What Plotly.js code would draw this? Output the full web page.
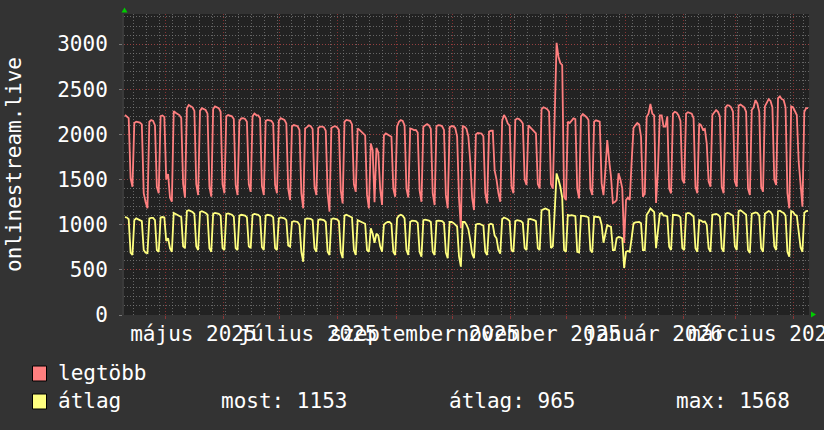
<!DOCTYPE html>
<html>
<head>
<meta charset="utf-8">
<script src="https://cdn.plot.ly/plotly-3.0.1.min.js"></script>
<style>
html,body{margin:0;padding:0;background:#333333;}
#chart{width:824px;height:430px;}
</style>
</head>
<body>
<div id="chart"></div>
<script>
// ---------- data (daily values) ----------
const startDate = '2025-04-09';
const endDate = '2026-04-09';
const seriesNames = ['legtöbb', 'átlag'];

const maxValues = [
 2214,2195,2180,1516,1420,
 2125,2140,2135,2130,2110,1350,1250,
 1181,2140,2159,2150,2100,1420,1347,
 2203,2210,2190,1500,1560,1300,1254,
 2258,2240,2230,2214,2180,1450,1300,
 2290,2325,2310,2300,2260,1450,1328,
 2260,2290,2277,2270,2230,1420,1310,
 2280,2310,2300,2290,2250,1450,1347,
 2200,2214,2210,2200,2170,1440,1328,
 2150,2177,2180,2170,2140,1450,1365,
 2200,2230,2214,2210,2180,1430,1328,
 2150,2160,2159,2150,2120,1440,1347,
 2150,2180,2170,2160,2120,1400,1273,
 2090,2103,2100,2090,2050,1350,1181,
 2066,2080,2100,2090,2060,1420,1328,
 2070,2085,2085,2080,2040,1350,1144,
 2070,2085,2090,2080,2050,1380,1236,
 2140,2160,2155,2150,2110,1450,1365,
 2066,2050,2030,2010,1990,1330,1181,
 1900,1826,1250,1850,1800,1400,1218,
 1990,2010,2000,1990,1974,1400,1310,
 2085,2140,2159,2150,2100,1400,1300,
 2066,2060,2048,2050,2020,1380,1254,
 2085,2100,2115,2100,2060,1350,1218,
 2090,2103,2100,2090,2050,1330,1181,
 2080,2090,2090,2070,1975,1300,960,
 2090,2085,2060,1975,1700,1300,1162,
 2000,2015,2015,2010,1980,1350,1236,
 2030,2040,2040,1600,1500,1350,1254,
 2150,2214,2180,2120,2100,1420,1347,
 2160,2177,2170,2150,2120,1500,1439,
 2100,2080,2060,2030,2010,1450,1402,
 2280,2299,2292,2280,2250,1450,1400,
 2100,3014,2860,2790,2768,1310,1273,
 2140,2125,2150,2177,2170,1400,1291,
 2200,2225,2210,2190,2160,1400,1328,
 2140,2155,2150,2140,1460,1328,1600,
 1937,1715,1531,1240,1250,1273,1570,
 1500,1402,797,1273,1300,1273,1700,
 2070,2100,2125,2110,1974,1310,1347,
 2195,2230,2336,2230,2210,1240,1600,
 2210,2210,2085,2085,2200,1400,1347,
 2230,2250,2240,2210,2150,1500,1458,
 2230,2245,2240,2230,2180,1420,1347,
 2120,2100,2050,2060,1900,1480,1420,
 2214,2240,2270,2250,2200,1420,1347,
 2300,2324,2320,2300,2250,1480,1420,
 2320,2330,2310,2300,2250,1400,1328,
 2270,2300,2380,2340,2250,1420,1365,
 2310,2350,2390,2370,2300,1500,1439,
 2400,2420,2390,2380,2300,1350,1181,
 2310,2300,2250,2214,1700,1400,1200,
 2250,2290,2290
];

const avgValues = [
 1085,1080,1060,690,664,
 1050,1070,1060,1050,1040,720,690,
 686,1070,1075,1075,1050,720,700,
 1080,1085,1080,820,850,740,700,
 1130,1120,1110,1100,1085,760,740,
 1150,1160,1150,1140,1120,760,720,
 1140,1150,1140,1130,1110,740,700,
 1120,1130,1125,1120,1100,740,720,
 1120,1125,1120,1110,1090,740,720,
 1100,1110,1105,1100,1080,760,740,
 1110,1120,1115,1110,1090,750,720,
 1100,1110,1105,1100,1080,740,720,
 1070,1080,1075,1070,1050,770,756,
 1030,1040,1035,1030,1000,700,590,
 1060,1070,1070,1065,1050,740,700,
 1050,1060,1055,1050,1030,700,664,
 1060,1070,1065,1060,1040,700,630,
 1100,1110,1100,1095,1080,720,664,
 1050,1040,1030,1020,1010,720,700,
 960,900,800,900,880,760,700,
 1000,1020,1030,1030,1010,700,664,
 1070,1100,1110,1100,1070,720,664,
 1030,1045,1045,1040,1020,700,645,
 1050,1055,1050,1045,1030,700,664,
 1040,1045,1045,1040,1020,690,630,
 1030,1030,1020,1000,980,650,535,
 1030,1030,1000,950,830,680,630,
 1000,1010,1010,1000,990,700,664,
 1000,1010,1000,880,850,720,680,
 1060,1080,1070,1060,1040,720,700,
 1040,1050,1045,1040,1020,740,720,
 1060,1065,1060,1050,1040,740,720,
 1160,1170,1180,1170,1160,742,760,
 1150,1568,1500,1420,1300,720,700,
 1107,1100,1105,1100,1095,700,693,
 1100,1100,1095,1090,1080,720,693,
 1090,1090,1085,1080,1000,800,900,
 996,985,975,720,720,850,863,
 860,850,520,700,710,700,850,
 1015,1025,1030,1030,1015,720,720,
 1110,1140,1180,1160,1140,740,900,
 1120,1130,1100,1100,1090,756,720,
 1110,1110,1105,1100,1080,740,720,
 1120,1130,1125,1110,1090,740,700,
 1050,1045,1030,1035,1000,740,700,
 1110,1115,1120,1110,1090,740,700,
 1120,1130,1125,1115,1100,760,720,
 1150,1160,1145,1130,1110,720,686,
 1120,1130,1135,1130,1100,740,700,
 1120,1140,1150,1140,1110,760,720,
 1150,1155,1140,1130,1100,700,645,
 1150,1140,1110,1100,900,750,700,
 1130,1150,1153
];

const yTickValues = [0, 500, 1000, 1500, 2000, 2500, 3000];
const xLabelDates = ['2025-05-16','2025-07-16','2025-09-16','2025-11-16','2026-01-16','2026-03-16'];
const xLabelTexts = ['május 2025','július 2025','szeptember 2025','november 2025','január 2026','március 2026'];
const yAxisTitle = 'onlinestream.live';
const legendStats = ['most: 1153', 'átlag: 965', 'max: 1568'];

// ---------- build dates (each daily value placed at the middle of its day) ----------
const t0 = Date.parse(startDate + 'T00:00:00Z');
function dayAt(i){
  const iso = new Date(t0 + i * 86400000).toISOString();
  return iso.slice(0, 10) + ' 12:00';
}
const days = maxValues.map((_, i) => dayAt(i));

// ---------- geometry helpers ----------
const W = 824, H = 430, ML = 124, MR = 15, MT = 14, MB = 115;
const PW = W - ML - MR, PH = H - MT - MB;
const px = x => (x - ML) / PW;
const py = y => (H - MB - y) / PH;

const FONT = 'DejaVu Sans Mono, monospace';
const RED = '#ff7f7f', YEL = '#ffff7f';
const MAJOR = 'rgba(160,55,55,0.8)';
const MINOR = 'rgba(130,130,130,0.7)';
const DASH = '1px,2px';

const traces = [
  { x: days, y: maxValues, name: seriesNames[0], type: 'scatter', mode: 'lines',
    line: { color: RED, width: 1.8, shape: 'linear' }, xaxis: 'x', yaxis: 'y', hoverinfo: 'skip' },
  { x: days, y: avgValues, name: seriesNames[1], type: 'scatter', mode: 'lines',
    line: { color: YEL, width: 1.8, shape: 'linear' }, xaxis: 'x2', yaxis: 'y', hoverinfo: 'skip' }
];

const layout = {
  width: W, height: H,
  margin: { l: ML, r: MR, t: MT, b: MB, pad: 0 },
  paper_bgcolor: '#333333',
  plot_bgcolor: '#222222',
  showlegend: false,
  font: { family: FONT, size: 21, color: '#ffffff' },
  xaxis: {
    type: 'date', range: [startDate, endDate], fixedrange: true,
    tickmode: 'linear', tick0: '2025-05-01', dtick: 'M1',
    showticklabels: false, ticks: 'outside', ticklen: 3, tickcolor: MAJOR,
    showgrid: true, gridcolor: MAJOR, griddash: DASH, gridwidth: 1,
    zeroline: false, showline: false,
    minor: { tickmode: 'linear', tick0: '2025-04-14', dtick: 604800000,
             showgrid: true, gridcolor: MINOR, griddash: DASH, gridwidth: 1, ticks: '' }
  },
  xaxis2: {
    type: 'date', range: [startDate, endDate], fixedrange: true,
    overlaying: 'x', anchor: 'y', side: 'bottom',
    tickmode: 'array', tickvals: xLabelDates, ticktext: xLabelTexts, tickangle: 0,
    ticklabeloverflow: 'allow',
    ticks: '', showgrid: false, zeroline: false, showline: false,
    tickfont: { family: FONT, size: 21, color: '#ffffff' },
    ticklabelstandoff: 4
  },
  yaxis: {
    range: [0, 3333], fixedrange: true,
    tickmode: 'array', tickvals: yTickValues, ticktext: yTickValues.map(String),
    ticks: 'outside', ticklen: 3, tickcolor: '#777777',
    tickfont: { family: FONT, size: 21, color: '#ffffff' },
    ticklabelstandoff: 7,
    showgrid: true, gridcolor: MAJOR, griddash: DASH, gridwidth: 1,
    zeroline: false, showline: true, linecolor: '#3a3a3a', linewidth: 2,
    minor: { tickmode: 'linear', tick0: 0, dtick: 100,
             showgrid: true, gridcolor: MINOR, griddash: DASH, gridwidth: 1, ticks: '' }
  },
  annotations: [
    { text: yAxisTitle, xref: 'paper', yref: 'paper', x: px(14), y: py(165),
      xanchor: 'center', yanchor: 'middle', textangle: -90, showarrow: false,
      font: { family: FONT, size: 21, color: '#ffffff' } },
    { text: seriesNames[0], xref: 'paper', yref: 'paper', x: px(56), y: py(373),
      xanchor: 'left', yanchor: 'middle', showarrow: false,
      font: { family: FONT, size: 21, color: '#ffffff' } },
    { text: seriesNames[1], xref: 'paper', yref: 'paper', x: px(56), y: py(401),
      xanchor: 'left', yanchor: 'middle', showarrow: false,
      font: { family: FONT, size: 21, color: '#ffffff' } },
    { text: legendStats[0], xref: 'paper', yref: 'paper', x: px(219), y: py(401),
      xanchor: 'left', yanchor: 'middle', showarrow: false,
      font: { family: FONT, size: 21, color: '#ffffff' } },
    { text: legendStats[1], xref: 'paper', yref: 'paper', x: px(447), y: py(401),
      xanchor: 'left', yanchor: 'middle', showarrow: false,
      font: { family: FONT, size: 21, color: '#ffffff' } },
    { text: legendStats[2], xref: 'paper', yref: 'paper', x: px(674), y: py(401),
      xanchor: 'left', yanchor: 'middle', showarrow: false,
      font: { family: FONT, size: 21, color: '#ffffff' } }
  ],
  shapes: [
    { type: 'rect', xref: 'paper', yref: 'paper', x0: px(32.5), x1: px(46.5), y0: py(381), y1: py(366),
      fillcolor: RED, line: { color: '#000000', width: 1 } },
    { type: 'rect', xref: 'paper', yref: 'paper', x0: px(32.5), x1: px(46.5), y0: py(409), y1: py(394),
      fillcolor: YEL, line: { color: '#000000', width: 1 } },
    { type: 'path', xref: 'paper', yref: 'paper',
      path: 'M ' + px(121.5) + ' ' + py(12.5) + ' L ' + px(127.5) + ' ' + py(12.5) + ' L ' + px(124.5) + ' ' + py(7.5) + ' Z',
      fillcolor: '#00cc00', line: { width: 0 } },
    { type: 'path', xref: 'paper', yref: 'paper',
      path: 'M ' + px(811) + ' ' + py(311.5) + ' L ' + px(811) + ' ' + py(317.5) + ' L ' + px(816) + ' ' + py(314.5) + ' Z',
      fillcolor: '#00cc00', line: { width: 0 } }
  ]
};

Plotly.newPlot('chart', traces, layout, { staticPlot: true, displayModeBar: false });
</script>
</body>
</html>
